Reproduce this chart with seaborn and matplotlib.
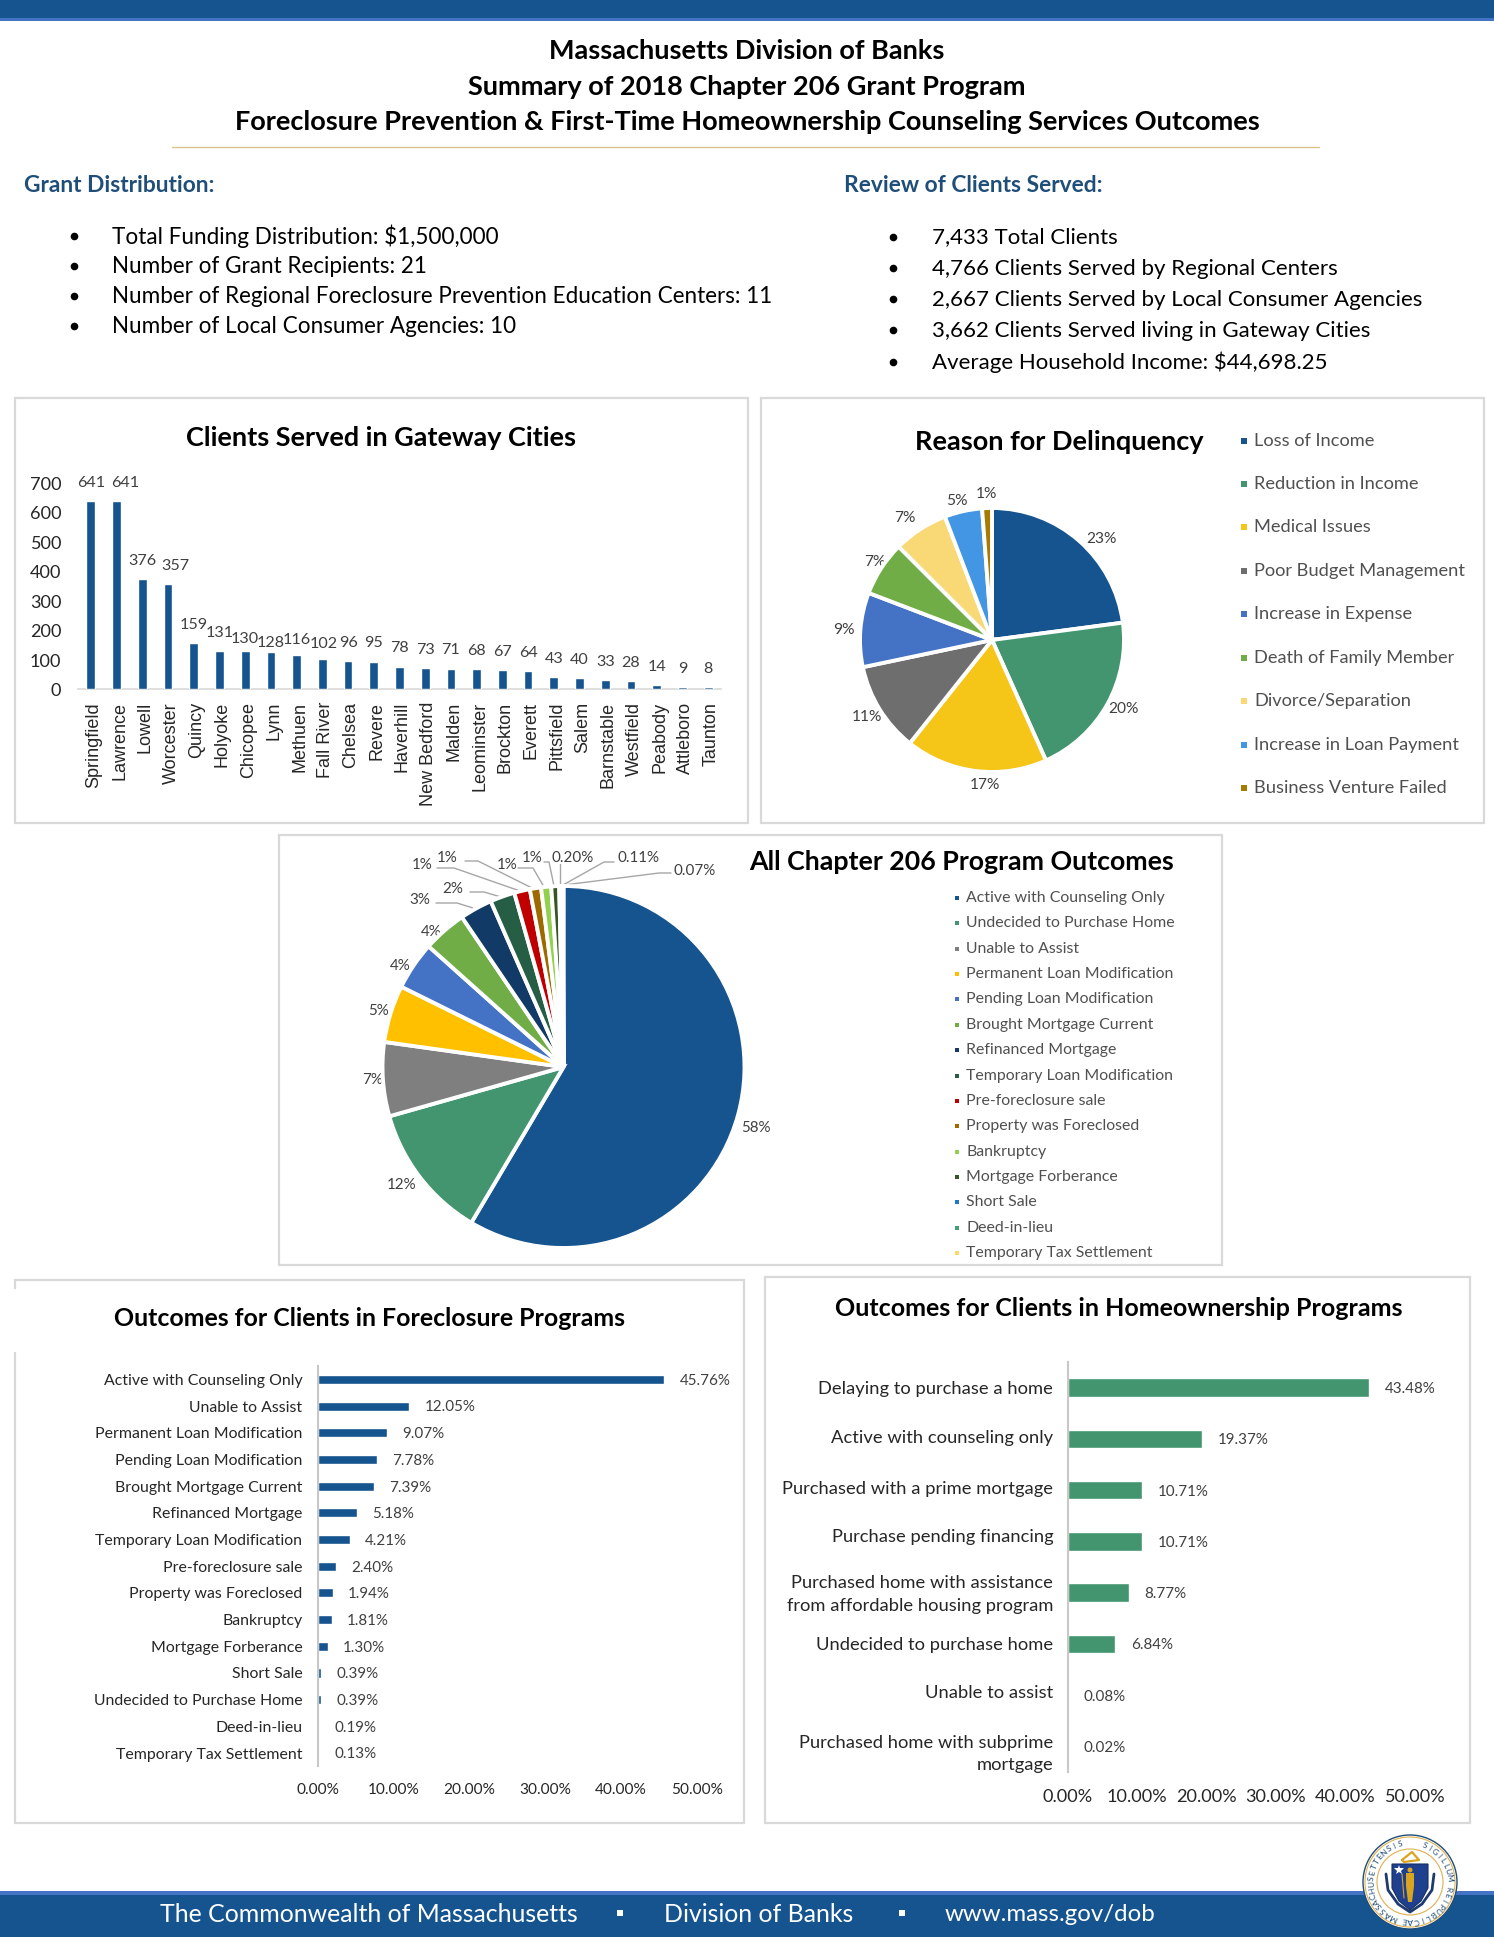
import matplotlib
matplotlib.use("Agg")
import matplotlib.pyplot as plt
import numpy as np
import seaborn as sns
from matplotlib.font_manager import FontProperties
from matplotlib.patches import Circle, Polygon, Rectangle
from matplotlib.textpath import TextPath
from matplotlib.transforms import ScaledTranslation

W, H = 1494, 1937

# Gateway cities
cities = ["Springfield", "Lawrence", "Lowell", "Worcester", "Quincy", "Holyoke", "Chicopee", "Lynn",
          "Methuen", "Fall River", "Chelsea", "Revere", "Haverhill", "New Bedford", "Malden", "Leominster",
          "Brockton", "Everett", "Pittsfield", "Salem", "Barnstable", "Westfield", "Peabody", "Attleboro", "Taunton"]
city_clients = [641, 641, 376, 357, 159, 131, 130, 128, 116, 102, 96, 95, 78, 73, 71, 68, 67, 64, 43, 40, 33, 28, 14, 9, 8]

# Delinquency pie
reasons = ["Loss of Income", "Reduction in Income", "Medical Issues", "Poor Budget Management", "Increase in Expense",
           "Death of Family Member", "Divorce/Separation", "Increase in Loan Payment", "Business Venture Failed"]
reason_pct = [22.9, 20.4, 17.4, 11.0, 9.1, 6.7, 6.7, 4.6, 1.2]
reason_colors = ["#15548F", "#43956F", "#F5C518", "#6E6E6E", "#4472C4", "#70AD47", "#F9D976", "#4296E4", "#A67C00"]

# All outcomes pie
outcomes = ["Active with Counseling Only", "Undecided to Purchase Home", "Unable to Assist", "Permanent Loan Modification",
            "Pending Loan Modification", "Brought Mortgage Current", "Refinanced Mortgage", "Temporary Loan Modification",
            "Pre-foreclosure sale", "Property was Foreclosed", "Bankruptcy", "Mortgage Forberance", "Short Sale",
            "Deed-in-lieu", "Temporary Tax Settlement"]
outcome_pct = [58.49, 12.1, 6.6, 5.1, 4.3, 3.9, 2.9, 2.2, 1.4, 1.0, 0.9, 0.7, 0.20, 0.11, 0.07]
outcome_colors = ["#15548F", "#43956F", "#7F7F7F", "#FFC000", "#4472C4", "#70AD47", "#123A66", "#255E44",
                  "#C00000", "#9E6A00", "#92D050", "#375623", "#1F77C8", "#43A070", "#FFD966"]

# Foreclosure bars
foreclosure = ["Active with Counseling Only", "Unable to Assist", "Permanent Loan Modification", "Pending Loan Modification",
               "Brought Mortgage Current", "Refinanced Mortgage", "Temporary Loan Modification", "Pre-foreclosure sale",
               "Property was Foreclosed", "Bankruptcy", "Mortgage Forberance", "Short Sale", "Undecided to Purchase Home",
               "Deed-in-lieu", "Temporary Tax Settlement"]
foreclosure_pct = [45.76, 12.05, 9.07, 7.78, 7.39, 5.18, 4.21, 2.40, 1.94, 1.81, 1.30, 0.39, 0.39, 0.19, 0.13]

# Homeownership bars
homeowner = ["Delaying to purchase a home", "Active with counseling only", "Purchased with a prime mortgage",
             "Purchase pending financing", "Purchased home with assistance\nfrom affordable housing program",
             "Undecided to purchase home", "Unable to assist", "Purchased home with subprime\nmortgage"]
homeowner_pct = [43.48, 19.37, 10.71, 10.71, 8.77, 6.84, 0.08, 0.02]

pct_ticks = [0, 10, 20, 30, 40, 50]
city_ticks = [0, 100, 200, 300, 400, 500, 600, 700]

grant_lines = ["Total Funding Distribution: $1,500,000", "Number of Grant Recipients: 21",
               "Number of Regional Foreclosure Prevention Education Centers: 11", "Number of Local Consumer Agencies: 10"]
client_lines = ["7,433 Total Clients", "4,766 Clients Served by Regional Centers",
                "2,667 Clients Served by Local Consumer Agencies", "3,662 Clients Served living in Gateway Cities",
                "Average Household Income: $44,698.25"]

NAVY = "#15548F"
GREEN = "#43956F"
BORDER = "#D9D9D9"
GOLD = "#D9A520"
FONT = "Lato"

sns.set_theme(style="white")
plt.rcParams["font.family"] = [FONT, "DejaVu Sans"]


def fit(sample, width, weight="normal", family=FONT):
    # font size that makes the sample this many pixels wide
    path = TextPath((0, 0), sample, size=100, prop=FontProperties(family=family, weight=weight))
    return width * 72 / path.get_extents().width


def px_axes(left, top, right, bottom):
    return fig.add_axes([left / W, 1 - bottom / H, (right - left) / W, (bottom - top) / H], facecolor="none")


def panel(left, top, right, bottom):
    page.add_patch(Rectangle((left, top), right - left, bottom - top, fc="white", ec=BORDER, lw=1.6))


def legend(labels, colors, mx, tx, y0, dy, size, ms):
    for i, (lab, col) in enumerate(zip(labels, colors)):
        page.plot([mx], [y0 + i * dy], marker="s", ms=ms, color=col, mew=0)
        page.text(tx, y0 + i * dy, lab, fontsize=size, color="#505050", va="center")


def draw_pie(cx, cy, r, values, colors):
    ax = px_axes(cx - r * 1.05, cy - r * 1.05, cx + r * 1.05, cy + r * 1.05)
    ax.pie(values, colors=colors, startangle=90, counterclock=False,
           wedgeprops={"edgecolor": "white", "linewidth": 2.8})
    ax.set_xlim(-1.05, 1.05)
    ax.set_ylim(-1.05, 1.05)
    return ax


def pct_text(v):
    return f"{v:.0f}%" if v >= 0.5 else f"{v:.2f}%"


def shift_label(lab, dx=0, dy=0):
    # dx, dy in pixels, dy downwards
    lab.set_transform(lab.get_transform() + ScaledTranslation(dx / 100, -dy / 100, fig.dpi_scale_trans))


def hbars(ax, labels, values, color, thick, lab_size, tick_size, val_size, pad_y, pad_x):
    sns.barplot(x=values, y=labels, orient="h", color=color, width=thick, ax=ax, saturation=1)
    value_labels = ax.bar_label(ax.containers[0], fmt="%.2f%%", padding=11, fontsize=val_size, color="#404040")
    for ann in value_labels:
        ann.xyann = (ann.xyann[0], -1)
    ax.set_xlim(0, 50)
    ax.set_xticks(pct_ticks, [f"{t:.2f}%" for t in pct_ticks])
    ax.set_xlabel("")
    ax.set_ylabel("")
    ax.tick_params(axis="y", length=0, pad=pad_y, labelsize=lab_size, labelcolor="#262626")
    ax.tick_params(axis="x", length=0, pad=pad_x, labelsize=tick_size, labelcolor="#262626")
    sns.despine(ax=ax, bottom=True)
    ax.spines["left"].set_color("#C8C8C8")
    ax.spines["left"].set_linewidth(1.5)


fig = plt.figure(figsize=(W / 100, H / 100), dpi=100, facecolor="white")
page = fig.add_axes([0, 0, 1, 1], zorder=0)
page.set_xlim(0, W)
page.set_ylim(H, 0)
page.axis("off")

# header and footer bands
page.add_patch(Rectangle((0, 0), W, 18, fc=NAVY, lw=0))
page.add_patch(Rectangle((0, 18), W, 3, fc="#4472C4", lw=0))
page.add_patch(Rectangle((0, 1891), W, 46, fc=NAVY, lw=0))
page.add_patch(Rectangle((0, 1891), W, 4, fc="#4472C4", lw=0))

head_size = fit("Foreclosure Prevention & First-Time Homeownership Counseling Services Outcomes", 1024, "bold")
for y, line in zip([51, 87, 122], ["Massachusetts Division of Banks", "Summary of 2018 Chapter 206 Grant Program",
                                   "Foreclosure Prevention & First-Time Homeownership Counseling Services Outcomes"]):
    page.text(747, y, line, ha="center", va="center", fontsize=head_size, fontweight="bold", color="black")
page.plot([172, 1319], [147, 147], color="#D9C58A", lw=1)

sub_size = fit("Review of Clients Served:", 256, "bold")
page.text(24, 186, "Grant Distribution:", fontsize=sub_size, fontweight="bold", color="#1F4E79", va="center")
page.text(844, 186, "Review of Clients Served:", fontsize=sub_size, fontweight="bold", color="#1F4E79", va="center")

left_size = fit(grant_lines[2], 657)
right_size = fit(client_lines[2], 488)
for i, line in enumerate(grant_lines):
    y = 236.5 + i * 30
    page.plot([74], [y - 1], marker="o", ms=5.5, color="black", mew=0)
    page.text(112, y, line, fontsize=left_size, color="black", va="center")
for i, line in enumerate(client_lines):
    y = 237.5 + i * 31.3
    page.plot([893], [y - 1], marker="o", ms=5.5, color="black", mew=0)
    page.text(931.5, y, line, fontsize=right_size, color="black", va="center")

# panels
panel(14.5, 398, 748, 823)
panel(760.5, 398, 1483.5, 823)
panel(279, 835, 1222, 1265)
panel(14.5, 1280, 744, 1823)
panel(765, 1276.5, 1470, 1823)
page.add_patch(Rectangle((12, 1289), 8, 63, fc="white", lw=0))

page.text(380.5, 437.5, "Clients Served in Gateway Cities", ha="center", va="center", fontsize=fit("Clients Served in Gateway Cities", 388, "bold"), fontweight="bold", color="black")
page.text(1059.5, 441.5, "Reason for Delinquency", ha="center", va="center", fontsize=fit("Reason for Delinquency", 287, "bold"), fontweight="bold", color="black")
page.text(962, 862.5, "All Chapter 206 Program Outcomes", ha="center", va="center", fontsize=fit("All Chapter 206 Program Outcomes", 425, "bold"), fontweight="bold", color="black")
page.text(370, 1319, "Outcomes for Clients in Foreclosure Programs", ha="center", va="center", fontsize=fit("Outcomes for Clients in Foreclosure Programs", 510, "bold"), fontweight="bold", color="black")
page.text(1119, 1309, "Outcomes for Clients in Homeownership Programs", ha="center", va="center", fontsize=fit("Outcomes for Clients in Homeownership Programs", 565, "bold"), fontweight="bold", color="black")

# gateway cities column chart
ax1 = px_axes(78, 483.3, 721, 689.5)
sns.barplot(x=cities, y=city_clients, color=NAVY, width=0.34, saturation=1, ax=ax1)
for bar in ax1.patches:
    bar.set_zorder(3)
city_labels = ax1.bar_label(ax1.containers[0], fmt="%d", padding=8, fontsize=fit("641", 26), color="#404040")
# labels the original chart had dragged off their bars: index -> dx, dy in points
for i, (dx, dy) in {1: (6, 0), 3: (5, 0), 6: (0, -4.5), 7: (0, -7), 8: (0, -2), 9: (1, -2)}.items():
    city_labels[i].xyann = (dx, 8 + dy)
ax1.set_ylim(0, 700)
ax1.set_yticks(city_ticks)
ax1.tick_params(axis="y", length=0, pad=12, labelsize=fit("700", 30), labelcolor="#262626")
ax1.tick_params(axis="x", length=0, pad=9, labelsize=fit("Springfield", 83, family="Liberation Sans"), labelcolor="#262626", labelrotation=90)
for lab in ax1.get_xticklabels():
    lab.set_family("Liberation Sans")
    shift_label(lab, dx=3)
sns.despine(ax=ax1, left=True)
ax1.spines["bottom"].set_color(BORDER)
ax1.spines["bottom"].set_linewidth(1.2)

# delinquency pie
draw_pie(992, 640, 132, reason_pct, reason_colors)
reason_label_xy = [(1101.7, 539), (1123, 709), (985, 785), (866.8, 717), (844, 630),
                   (875.3, 562), (904.7, 518), (956.5, 501), (986.4, 494)]
pie_lab_size = fit("23%", 29)
for (x, y), v in zip(reason_label_xy, reason_pct):
    page.text(x, y, pct_text(v), ha="center", va="center", fontsize=pie_lab_size, color="#404040", zorder=5)
legend(reasons, reason_colors, 1244, 1254.5, 440.5, 43.46, fit("Poor Budget Management", 209), 4.3)

# all outcomes pie
draw_pie(563.5, 1067, 181, outcome_pct, outcome_colors)
outcome_label_xy = [(756, 1128), (401.7, 1185), (372.3, 1080), (379, 1011), (400.4, 965.5), (431.7, 932),
                    (420, 900), (453, 889), (422.5, 865), (447.6, 858), (507, 865), (532, 858),
                    (572.5, 858), (638, 858), (695, 871)]
out_lab_size = fit("0.20%", 41)
for (x, y), v in zip(outcome_label_xy, outcome_pct):
    page.text(x, y, pct_text(v), ha="center", va="center", fontsize=out_lab_size, color="#404040")
leaders = [[(436, 903), (457, 903), (473, 908)], [(470, 892), (484, 892), (501, 897)],
           [(437, 868), (454, 868), (520, 891)], [(465, 861), (478, 861), (532, 888)],
           [(518, 868), (533, 868), (544, 887)], [(544, 862), (549, 862), (554, 886)],
           [(560, 864), (560, 886)], [(614, 862), (604, 862), (563, 885)],
           [(671, 873), (659, 873), (564, 885)]]
for pts in leaders:
    page.plot(*zip(*pts), color="#A6A6A6", lw=1)
legend(outcomes, outcome_colors, 957, 966, 898, 25.36, fit("Temporary Loan Modification", 206), 3.2)

# foreclosure bars
ax4 = px_axes(318, 1366, 696.6, 1766.4)
hbars(ax4, foreclosure, foreclosure_pct, NAVY, 0.34, fit("Temporary Loan Modification", 206), fit("50.00%", 50), fit("45.76%", 50), 11.3, 11.6)

# homeownership bars
ax5 = px_axes(1068, 1362, 1414.5, 1772)
hbars(ax5, homeowner, homeowner_pct, GREEN, 0.36, fit("Purchased with a prime mortgage", 269), fit("50.00%", 59), fit("43.48%", 50), 10.6, 12)
for lab, dy in zip(ax5.get_yticklabels(), [0, -2.5, -2.5, -6, -3, 0, -4, 3]):
    lab.set_linespacing(1.5)
    shift_label(lab, dy=dy)

# footer text
foot_size = fit("The Commonwealth of Massachusetts", 417)
page.text(160, 1914.5, "The Commonwealth of Massachusetts", fontsize=foot_size, color="white", va="center")
page.text(664, 1914.5, "Division of Banks", fontsize=foot_size, color="white", va="center")
page.text(944.5, 1914.5, "www.mass.gov/dob", fontsize=fit("www.mass.gov/dob", 208.5), color="white", va="center")
for x in [620, 902]:
    page.plot([x], [1913], marker="s", ms=4, color="white", mew=0)

# state seal
sx, sy, sr = 1410, 1882, 47
page.add_patch(Circle((sx, sy), sr, fc="white", ec="#1F4E79", lw=1, zorder=6))
page.add_patch(Circle((sx, sy), sr - 2, fc="none", ec="#E0B050", lw=0.8, zorder=6))
page.add_patch(Circle((sx, sy), sr - 14, fc="none", ec="#E0B050", lw=0.8, zorder=6))
ring = "SIGILLUM REIPUBLICAE MASSACHUSETTENSIS"
for ch, ang in zip(ring, np.linspace(68, -255, len(ring))):
    rad = np.deg2rad(ang)
    page.text(sx + (sr - 8) * np.cos(rad), sy - (sr - 8) * np.sin(rad), ch, fontsize=6, color="#1F4E79",
              rotation=ang - 90, ha="center", va="center", zorder=7)
# crest
page.plot([sx - 8, sx + 2, sx + 9, sx - 6, sx - 8], [sy - 22, sy - 30, sy - 22, sy - 20, sy - 22], color=GOLD, lw=1.6, zorder=7)
# ribbon round the shield
page.plot([sx - 24, sx - 22, sx - 12, sx, sx + 12, sx + 22, sx + 24],
          [sy - 8, sy + 8, sy + 22, sy + 30, sy + 22, sy + 8, sy - 8], color="#1F3A6E", lw=2, zorder=7)
# shield and figure
page.add_patch(Polygon([(sx - 18, sy - 18), (sx + 18, sy - 18), (sx + 18, sy + 6), (sx + 11, sy + 19), (sx, sy + 28), (sx - 11, sy + 19), (sx - 18, sy + 6)],
                       fc="#1F3F8F", ec="#16305F", lw=0.8, zorder=7))
page.plot([sx - 11], [sy - 12], marker="*", ms=7, color="white", mew=0, zorder=8)
page.add_patch(Circle((sx, sy - 12), 2.5, fc=GOLD, lw=0, zorder=8))
page.add_patch(Polygon([(sx - 4, sy - 9), (sx + 4, sy - 9), (sx + 4, sy + 4), (sx + 2, sy + 20), (sx - 2, sy + 20), (sx - 4, sy + 4)],
                       fc=GOLD, lw=0, zorder=8))
page.plot([sx - 8, sx - 6], [sy - 8, sy + 16], color=GOLD, lw=0.8, zorder=8)

plt.savefig("out.png", dpi=100)
